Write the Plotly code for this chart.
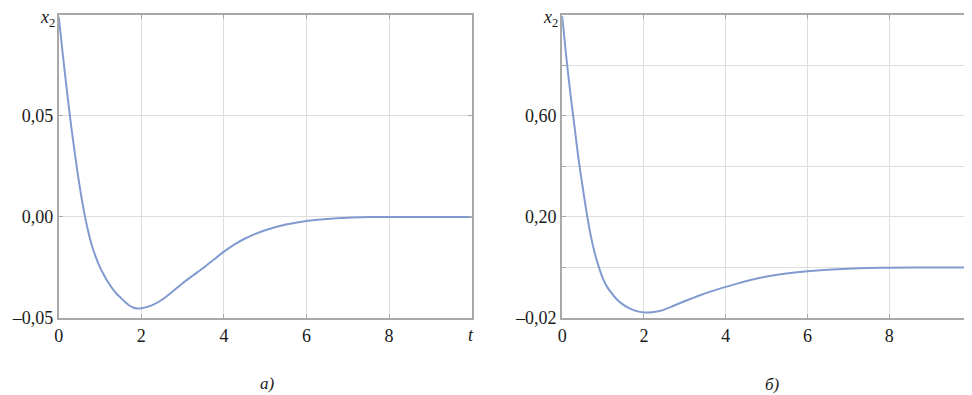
import plotly.graph_objects as go

# Panel a)
t_a = [0, 0.1, 0.2, 0.3, 0.4, 0.5, 0.6, 0.7, 0.8, 0.9, 1.0, 1.1, 1.2, 1.3, 1.4, 1.5, 1.6,
       1.7, 1.8, 1.9, 2.0, 2.25, 2.5, 2.75, 3.0, 3.25, 3.5, 3.75, 4.0, 4.25, 4.5, 4.75,
       5.0, 5.5, 6.0, 6.5, 7.0, 7.5, 8.0, 9.0, 10.0]
x2_a = [0.099, 0.080, 0.062, 0.045, 0.030, 0.016, 0.004, -0.006, -0.014, -0.020, -0.025,
        -0.029, -0.0325, -0.0355, -0.038, -0.040, -0.042, -0.0437, -0.0448, -0.0453,
        -0.0452, -0.0438, -0.0410, -0.0370, -0.0328, -0.0290, -0.0253, -0.0212, -0.0172,
        -0.0137, -0.0108, -0.0085, -0.0066, -0.0038, -0.0020, -0.0010, -0.0004, -0.0001,
        0.0, 0.0, 0.0]

# Panel б)
t_b = [0, 0.1, 0.2, 0.3, 0.4, 0.5, 0.6, 0.7, 0.8, 0.9, 1.0, 1.1, 1.2, 1.3, 1.4, 1.5, 1.6,
       1.7, 1.8, 1.9, 2.0, 2.2, 2.42, 2.65, 2.9, 3.15, 3.39, 3.7, 4.0, 4.3, 4.56, 5.04,
       5.53, 6.0, 6.5, 7.0, 7.5, 8.0, 9.0, 10.0]
x2_b = [0.995, 0.835, 0.69, 0.56, 0.43, 0.32, 0.215, 0.125, 0.055, 0.0, -0.045, -0.077,
        -0.10, -0.12, -0.136, -0.148, -0.158, -0.166, -0.172, -0.176, -0.178, -0.177,
        -0.171, -0.157, -0.140, -0.124, -0.109, -0.092, -0.077, -0.063, -0.052, -0.035,
        -0.023, -0.015, -0.009, -0.005, -0.0025, -0.001, 0.0, 0.0]

x_tickvals = [0, 2, 4, 6, 8]
x_ticktext = ["0", "2", "4", "6", "8"]
x_label = "<i>t</i>"

ya_tickvals = [-0.05, 0.0, 0.05]
ya_ticktext = ["–0,05", "0,00", "0,05"]

yb_tickvals = [-0.2, 0.2, 0.6]
yb_ticktext = ["–0,02", "0,20", "0,60"]
yb_minorvals = [0.0, 0.4, 0.8]

y_label = "<i>x</i><sub>2</sub>"
captions = ["<i>a)</i>", "<i>б)</i>"]

LINE = "#819bd0"
FRAME = "#a8a8a8"
GRID = "#dedede"
SERIF = "Liberation Serif, Times New Roman, serif"
FONT = dict(family=SERIF, size=18, color="#1a1a1a")

XDOM_A = [46 / 972, 461 / 972]
XDOM_B = [552 / 972, 963 / 972]

fig = go.Figure()
fig.add_trace(go.Scatter(x=t_a, y=x2_a, mode="lines", line=dict(color=LINE, width=2, shape="spline", smoothing=0.8),
                         xaxis="x", yaxis="y", showlegend=False))
fig.add_trace(go.Scatter(x=t_b, y=x2_b, mode="lines", line=dict(color=LINE, width=2, shape="spline", smoothing=0.8),
                         xaxis="x2", yaxis="y2", showlegend=False))

ydom = [1 - 318 / 395, 1 - 7 / 395]
common_x = dict(range=[0, 10], tickvals=x_tickvals, ticktext=x_ticktext, showgrid=True,
                gridcolor=GRID, gridwidth=1, showline=True, linecolor=FRAME, linewidth=2,
                mirror="ticks", ticks="inside", ticklen=4, tickcolor=FRAME, zeroline=False,
                tickfont=FONT, fixedrange=True)
common_y = dict(showgrid=True, gridcolor=GRID, gridwidth=1, showline=True, linecolor=FRAME,
                linewidth=2, mirror="ticks", ticks="inside", ticklen=4, tickcolor=FRAME,
                zeroline=False, tickfont=FONT, fixedrange=True)

ann_font = dict(family=SERIF, size=18, color="#1a1a1a")
annotations = []
for dom in (XDOM_A, XDOM_B):
    annotations.append(dict(text=y_label, x=dom[0] - 2 / 972, y=1 - 11 / 395, xref="paper", yref="paper",
                            showarrow=False, xanchor="right", yanchor="middle", font=ann_font))
    annotations.append(dict(text=x_label, x=dom[1] + 4 / 972, y=1 - 335 / 395, xref="paper", yref="paper",
                            showarrow=False, xanchor="right", yanchor="middle", font=ann_font))
annotations.append(dict(text=captions[0], x=256 / 972, y=1 - 385 / 395, xref="paper", yref="paper",
                        showarrow=False, xanchor="center", yanchor="middle",
                        font=dict(family=SERIF, size=17, color="#1a1a1a")))
annotations.append(dict(text=captions[1], x=763 / 972, y=1 - 386 / 395, xref="paper", yref="paper",
                        showarrow=False, xanchor="center", yanchor="middle",
                        font=dict(family=SERIF, size=17, color="#1a1a1a")))

fig.update_layout(
    width=972, height=395,
    margin=dict(l=0, r=0, t=0, b=0),
    paper_bgcolor="white", plot_bgcolor="white",
    font=FONT,
    xaxis=dict(domain=XDOM_A, anchor="y", **common_x),
    yaxis=dict(domain=ydom, anchor="x", range=[-0.05, 0.10], tickvals=ya_tickvals,
               ticktext=ya_ticktext, **common_y),
    xaxis2=dict(domain=XDOM_B, anchor="y2", **common_x),
    yaxis2=dict(domain=ydom, anchor="x2", range=[-0.2, 1.0], tickvals=yb_tickvals,
                ticktext=yb_ticktext,
                minor=dict(tickvals=yb_minorvals, showgrid=True, gridcolor=GRID, gridwidth=1,
                           ticks="inside", ticklen=4, tickcolor=FRAME),
                **common_y),
    annotations=annotations,
)

fig.write_html("out.html")
